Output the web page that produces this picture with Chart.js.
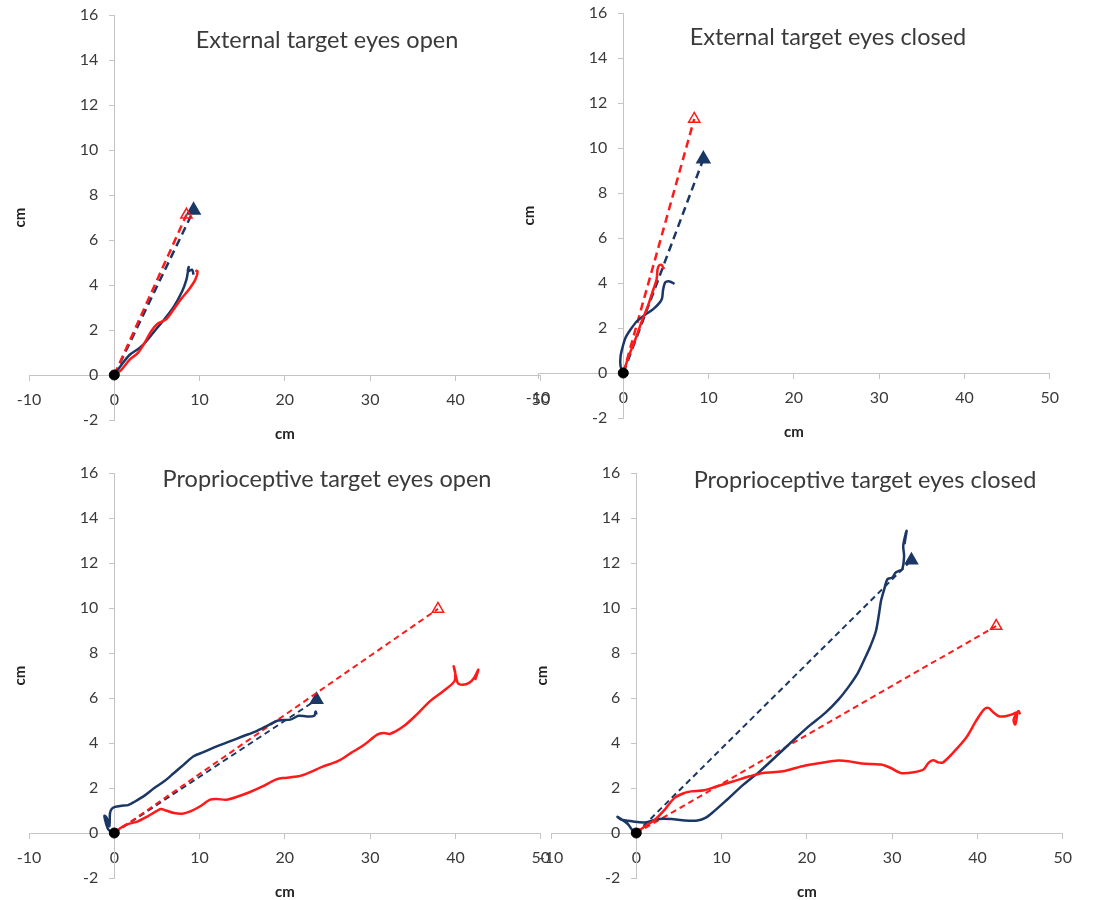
<!DOCTYPE html>
<html>
<head>
<meta charset="utf-8">
<script src="https://cdn.jsdelivr.net/npm/chart.js@4.4.1/dist/chart.umd.min.js"></script>
<style>
  html, body { margin: 0; padding: 0; background: #fff; }
  #wrap { position: relative; width: 1094px; height: 900px; overflow: hidden; }
  .panel { position: absolute; width: 560px; height: 450px; }
</style>
</head>
<body>
<div id="wrap">
  <div class="panel" style="left:0px;top:0px"><canvas id="c1" width="560" height="450"></canvas></div>
  <div class="panel" style="left:509px;top:-2px"><canvas id="c2" width="560" height="450"></canvas></div>
  <div class="panel" style="left:0px;top:458px"><canvas id="c3" width="560" height="450"></canvas></div>
  <div class="panel" style="left:522px;top:458px"><canvas id="c4" width="560" height="450"></canvas></div>
</div>
<script>
// Ticks dos eixos
const xTicks = [-10, 0, 10, 20, 30, 40, 50];
const yTicks = [-2, 0, 2, 4, 6, 8, 10, 12, 14, 16];
const origin = [[0, 0]];

// External target eyes open
const extOpenBlue = [[0, 0], [0.85, 0.46], [1.81, 0.9], [2.96, 1.2], [3.73, 1.49], [4.69, 1.94], [5.84, 2.46],
  [7.0, 3.05], [7.96, 3.72], [8.46, 4.24], [8.62, 4.56], [8.73, 4.8], [8.62, 4.6], [9.11, 4.68], [9.3, 4.46]];
const extOpenRed = [[0.05, -0.04], [0.85, 0.24], [1.81, 0.68], [2.77, 0.98], [3.54, 1.42], [4.31, 1.94], [5.07, 2.28],
  [6.03, 2.46], [6.8, 2.83], [7.77, 3.35], [8.73, 3.79], [9.5, 4.24], [9.77, 4.6], [9.5, 4.65]];
const extOpenBlueTarget = [9.3, 7.32];
const extOpenRedTarget = [8.46, 7.12];

// External target eyes closed
const extClosedBlue = [[0, 0], [-0.32, 0.3], [-0.32, 0.74], [-0.06, 1.18], [0.25, 1.56], [0.83, 1.92], [1.59, 2.3],
  [2.56, 2.59], [3.51, 2.84], [4.29, 3.14], [4.55, 3.33], [4.67, 3.7], [4.93, 4.03], [5.44, 4.07], [6.01, 3.96]];
const extClosedRed = [[0, 0], [0.63, 0.74], [1.4, 1.48], [2.17, 2.3], [2.94, 3.04], [3.51, 3.7], [3.9, 4.15],
  [4.01, 4.59], [4.17, 4.77], [4.47, 4.81], [4.78, 4.62]];
const extClosedBlueTarget = [9.39, 9.51];
const extClosedRedTarget = [8.32, 11.29];

// Proprioceptive target eyes open
const propOpenBlue = [[0, 0], [-0.69, 0.15], [-1.08, 0.59], [-1.15, 0.77], [-0.88, 0.67], [-0.58, 0.3], [-0.5, 0.89],
  [-0.31, 1.07], [0.08, 1.16], [0.85, 1.21], [1.62, 1.24], [2.38, 1.39], [3.54, 1.66], [4.69, 2.0], [5.85, 2.3],
  [7.0, 2.67], [8.15, 3.04], [9.3, 3.41], [10.46, 3.59], [12.0, 3.85], [13.54, 4.07], [15.08, 4.3], [16.62, 4.52],
  [18.15, 4.81], [19.2, 5.0], [20.65, 5.04], [21.6, 5.21], [22.57, 5.18], [23.45, 5.21], [23.6, 5.4], [23.72, 5.26]];
const propOpenRed = [[0, 0], [0.46, 0.15], [1.42, 0.37], [2.77, 0.52], [3.92, 0.74], [4.88, 0.96], [5.46, 1.07],
  [6.04, 1.0], [7.0, 0.89], [7.96, 0.86], [8.92, 0.96], [10.08, 1.19], [11.23, 1.48], [12.0, 1.51], [13.15, 1.48],
  [14.31, 1.6], [15.85, 1.81], [17.38, 2.07], [18.92, 2.37], [19.7, 2.44], [21.6, 2.52], [22.76, 2.67], [24.3, 2.93],
  [26.2, 3.19], [27.76, 3.56], [29.3, 3.92], [30.83, 4.37], [31.6, 4.44], [32.37, 4.41], [33.91, 4.74], [35.45, 5.26],
  [36.99, 5.85], [38.52, 6.29], [39.87, 6.74], [39.98, 7.11], [39.79, 7.41], [40.1, 6.9], [40.3, 6.65], [40.83, 6.59],
  [41.6, 6.67], [42.18, 6.89], [42.68, 7.26], [42.45, 6.96], [42.3, 6.8]];
const propOpenBlueTarget = [23.72, 5.92];
const propOpenRedTarget = [37.95, 9.96];

// Proprioceptive target eyes closed
const propClosedBlue = [[0, 0], [-0.5, 0.15], [-1.0, 0.4], [-2.2, 0.72], [-1.8, 0.6], [-0.5, 0.52], [1.0, 0.47],
  [2.6, 0.62], [4.1, 0.62], [5.7, 0.56], [7.2, 0.56], [8.1, 0.67], [9.1, 0.96], [10.64, 1.48], [12.56, 2.15],
  [14.48, 2.74], [16.4, 3.41], [18.3, 4.08], [20.24, 4.75], [22.16, 5.34], [23.7, 5.93], [24.8, 6.45], [25.99, 7.12],
  [26.75, 7.72], [27.46, 8.31], [28.1, 8.98], [28.48, 9.79], [28.69, 10.31], [29.07, 10.83], [29.45, 11.28],
  [30.0, 11.35], [30.4, 11.57], [30.8, 11.65], [31.18, 11.72], [31.4, 12.3], [31.3, 12.76], [31.57, 13.28],
  [31.7, 13.43], [31.57, 13.13], [31.45, 12.84]];
const propClosedRed = [[0, 0], [1.04, 0.3], [2.19, 0.59], [3.34, 1.04], [4.49, 1.56], [5.65, 1.78], [6.41, 1.85],
  [7.95, 1.9], [9.49, 2.08], [11.4, 2.3], [13.3, 2.52], [14.86, 2.67], [17.17, 2.74], [19.47, 2.97], [21.77, 3.12],
  [23.69, 3.22], [24.85, 3.19], [26.4, 3.09], [28.69, 3.04], [29.84, 2.89], [31.0, 2.67], [32.53, 2.7], [33.68, 2.82],
  [34.26, 3.12], [34.83, 3.23], [35.4, 3.14], [35.98, 3.14], [37.13, 3.56], [38.67, 4.23], [39.82, 4.97],
  [40.78, 5.49], [41.28, 5.56], [41.93, 5.34], [42.51, 5.19], [43.28, 5.19], [44.05, 5.27], [44.62, 5.34],
  [44.43, 4.82], [44.24, 5.04], [44.8, 5.42], [45.0, 5.27]];
const propClosedBlueTarget = [32.26, 12.12];
const propClosedRedTarget = [42.2, 9.2];

const NAVY = '#1b3766';
const RED = '#ff1a1a';
const AXIS = '#c4c4c4';
const TEXT = '#3a3a3a';

Chart.defaults.font.family = 'Lato, "Open Sans", sans-serif';
Chart.defaults.color = TEXT;

// Titulo do painel, titulos dos eixos e rótulos do eixo y (afastados da linha do eixo)
const panelText = {
  id: 'panelText',
  afterDraw(chart, args, opts) {
    const { ctx, chartArea: a, scales } = chart;
    const x0 = scales.x.getPixelForValue(0);
    ctx.save();
    ctx.fillStyle = TEXT;
    ctx.textBaseline = 'middle';
    ctx.textAlign = 'right';
    ctx.font = '16px Lato';
    yTicks.forEach(v => ctx.fillText(String(v), x0 - 16, scales.y.getPixelForValue(v)));
    ctx.textAlign = 'center';
    ctx.font = '23.5px Lato';
    ctx.fillText(opts.title, a.left + opts.titleDx, a.top + opts.titleDy);
    ctx.font = 'bold 15px Lato';
    ctx.fillStyle = '#222';
    ctx.fillText('cm', (a.left + a.right) / 2, a.bottom + 14);
    ctx.translate(20, (a.top + a.bottom) / 2);
    ctx.rotate(-Math.PI / 2);
    ctx.fillText('cm', 0, 0);
    ctx.restore();
  }
};

const panels = [
  { id: 'c1', title: 'External target eyes open', titleDx: 298, titleDy: 25,
    blue: extOpenBlue, red: extOpenRed, blueT: extOpenBlueTarget, redT: extOpenRedTarget, dash: [8, 5], dashW: 2.5 },
  { id: 'c2', title: 'External target eyes closed', titleDx: 290, titleDy: 24,
    blue: extClosedBlue, red: extClosedRed, blueT: extClosedBlueTarget, redT: extClosedRedTarget, dash: [8, 5], dashW: 2.5 },
  { id: 'c3', title: 'Proprioceptive target eyes open', titleDx: 298, titleDy: 6,
    blue: propOpenBlue, red: propOpenRed, blueT: propOpenBlueTarget, redT: propOpenRedTarget, dash: [6, 4], dashW: 2 },
  { id: 'c4', title: 'Proprioceptive target eyes closed', titleDx: 314, titleDy: 7,
    blue: propClosedBlue, red: propClosedRed, blueT: propClosedBlueTarget, redT: propClosedRedTarget, dash: [6, 4], dashW: 2 }
];

function axisOpts(ticks, pos, showLabels) {
  return {
    type: 'linear',
    position: pos,
    min: ticks[0],
    max: ticks[ticks.length - 1],
    afterBuildTicks: s => { s.ticks = ticks.map(v => ({ value: v })); },
    grid: { drawOnChartArea: false, drawTicks: true, tickLength: 5, color: AXIS },
    border: { display: true, color: AXIS, width: 1 },
    ticks: { display: showLabels, padding: 10, font: { size: 16 }, color: TEXT }
  };
}

panels.forEach(p => {
  new Chart(document.getElementById(p.id), {
    type: 'scatter',
    data: {
      datasets: [
        { data: origin, pointRadius: 5, pointBackgroundColor: '#000', pointBorderColor: '#000' },
        { data: p.red, showLine: true, borderColor: RED, borderWidth: 2.5, pointRadius: 0, tension: 0.3, borderJoinStyle: 'round' },
        { data: p.blue, showLine: true, borderColor: NAVY, borderWidth: 2.5, pointRadius: 0, tension: 0.3, borderJoinStyle: 'round' },
        { data: [[0, 0], p.redT], showLine: true, borderColor: RED, borderDash: p.dash, borderWidth: p.dashW,
          pointRadius: [0, 6.5], pointStyle: 'triangle', pointBackgroundColor: 'rgba(255,255,255,0)',
          pointBorderColor: RED, pointBorderWidth: 1.5 },
        { data: [[0, 0], p.blueT], showLine: true, borderColor: NAVY, borderDash: p.dash, borderWidth: p.dashW,
          pointRadius: [0, 6.5], pointStyle: 'triangle', pointBackgroundColor: NAVY, pointBorderColor: NAVY }
      ]
    },
    options: {
      responsive: false,
      animation: false,
      events: [],
      layout: { padding: { left: 29, right: 11, top: 15, bottom: 30 } },
      scales: {
        x: axisOpts(xTicks, { y: 0 }, true),
        y: axisOpts(yTicks, { x: 0 }, false)
      },
      plugins: {
        legend: { display: false },
        tooltip: { enabled: false },
        panelText: { title: p.title, titleDx: p.titleDx, titleDy: p.titleDy }
      }
    },
    plugins: [panelText]
  });
});
</script>
</body>
</html>
